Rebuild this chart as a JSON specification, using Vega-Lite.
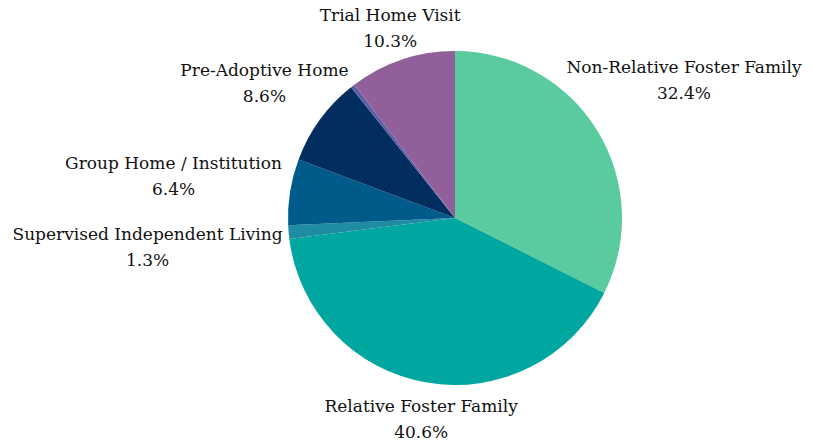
{
  "$schema": "https://vega.github.io/schema/vega-lite/v6.json",
  "width": 716,
  "height": 436,
  "autosize": "none",
  "padding": {"left": 97, "top": 0, "right": 0, "bottom": 10},
  "background": "white",
  "config": {"view": {"stroke": null}},
  "data": {
    "values": [
      {"category": "Non-Relative Foster Family", "value": 32.4, "order": 1},
      {"category": "Relative Foster Family", "value": 40.6, "order": 2},
      {"category": "Supervised Independent Living", "value": 1.3, "order": 3},
      {"category": "Group Home / Institution", "value": 6.4, "order": 4},
      {"category": "Pre-Adoptive Home", "value": 8.6, "order": 5},
      {"category": "Runaway", "value": 0.4, "order": 6},
      {"category": "Trial Home Visit", "value": 10.3, "order": 7}
    ]
  },
  "encoding": {
    "theta": {"field": "value", "type": "quantitative", "stack": true},
    "order": {"field": "order", "type": "quantitative"}
  },
  "layer": [
    {
      "mark": {"type": "arc", "outerRadius": 167},
      "encoding": {
        "color": {
          "field": "category",
          "type": "nominal",
          "legend": null,
          "scale": {
            "domain": ["Non-Relative Foster Family", "Relative Foster Family", "Supervised Independent Living", "Group Home / Institution", "Pre-Adoptive Home", "Runaway", "Trial Home Visit"],
            "range": ["#5acb9e", "#00a6a0", "#1e8ca2", "#005a8a", "#022d5f", "#5a5fa6", "#915f99"]
          }
        }
      }
    },
    {
      "mark": {
        "type": "text",
        "font": "DejaVu Serif",
        "fontSize": 17,
        "lineHeight": 26,
        "align": "center",
        "baseline": "middle",
        "dy": -9,
        "color": "#111111",
        "text": {"expr": "datum.category === 'Runaway' ? '' : [datum.category, format(datum.value, '.1f') + '%']"},
        "radius": {"expr": "176.5 + 14*abs(cos(PI*(datum.value_start+datum.value_end)/100)) + 4.55*length(datum.category)*abs(sin(PI*(datum.value_start+datum.value_end)/100))*(0.6+0.4*pow(abs(sin(PI*(datum.value_start+datum.value_end)/100)),3))"}
      }
    }
  ]
}
